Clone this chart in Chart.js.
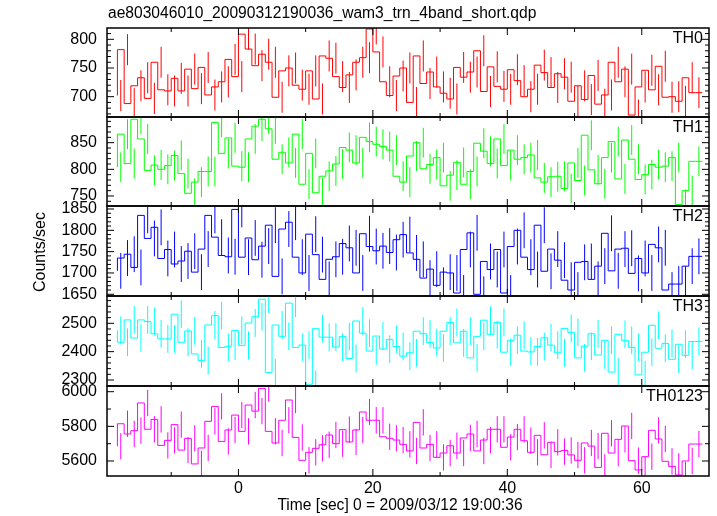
<!DOCTYPE html>
<html><head><meta charset="utf-8">
<script src="https://cdn.jsdelivr.net/npm/chart.js@4/dist/chart.umd.min.js"></script>
<style>
html,body{margin:0;padding:0;background:#fff;}
#wrap{position:relative;width:717px;height:516px;overflow:hidden;background:#fff;}
#wrap canvas{position:absolute;left:0;top:0;}
</style></head><body><div id="wrap"></div>
<script>
// ---- data ----
const TIME = [-17.5,-16.5,-15.5,-14.5,-13.5,-12.5,-11.5,-10.5,-9.5,-8.5,-7.5,-6.5,-5.5,-4.5,-3.5,-2.5,-1.5,-0.5,
  0.5,1.5,2.5,3.5,4.5,5.5,6.5,7.5,8.5,9.5,10.5,11.5,12.5,13.5,14.5,15.5,16.5,17.5,18.5,19.5,
  20.5,21.5,22.5,23.5,24.5,25.5,26.5,27.5,28.5,29.5,30.5,31.5,32.5,33.5,34.5,35.5,36.5,37.5,38.5,39.5,
  40.5,41.5,42.5,43.5,44.5,45.5,46.5,47.5,48.5,49.5,50.5,51.5,52.5,53.5,54.5,55.5,56.5,57.5,58.5,59.5,
  60.5,61.5,62.5,63.5,64.5,65.5,66.5,67.5,68.5];
const TH0 = [702,782,688,719,733,697,760,712,710,732,710,748,714,751,703,717,726,765,
  735,809,783,754,774,760,699,745,750,720,713,745,696,771,767,735,716,738,760,768,
  818,778,726,702,736,750,690,771,723,743,717,706,696,751,734,743,780,709,752,718,
  713,747,728,700,713,755,742,716,740,734,692,719,695,737,687,703,760,726,748,668,
  717,746,712,753,699,700,692,733,707];
const TH1 = [804,866,811,894,857,798,808,800,807,826,792,755,776,796,796,888,830,859,
  806,804,857,881,894,876,819,832,812,866,772,830,756,787,797,810,841,836,812,860,
  852,847,843,836,787,776,825,850,801,809,822,769,789,813,772,796,849,834,811,857,
  807,836,819,822,827,784,776,786,787,764,812,779,864,799,773,822,852,782,855,819,
  781,790,809,804,806,822,734,760,815];
const TH2 = [1705,1735,1744,1713,1835,1781,1807,1734,1755,1721,1728,1751,1702,1756,1835,1784,1741,1738,
  1849,1737,1782,1731,1763,1812,1692,1803,1819,1737,1700,1791,1743,1685,1732,1738,1769,1759,1700,1792,
  1762,1752,1763,1748,1778,1790,1747,1732,1688,1709,1671,1702,1700,1653,1755,1794,1650,1727,1708,1755,
  1653,1762,1800,1737,1708,1812,1704,1756,1730,1683,1660,1725,1727,1685,1716,1793,1705,1756,1758,1699,
  1734,1700,1767,1759,1660,1674,1674,1716,1739];
const TH3 = [2475,2433,2512,2448,2512,2506,2463,2445,2445,2532,2433,2473,2392,2369,2494,2527,2415,2419,
  2475,2422,2501,2523,2585,2326,2494,2454,2571,2415,2423,2285,2481,2451,2451,2416,2453,2376,2508,2465,
  2402,2455,2409,2443,2418,2384,2396,2472,2463,2432,2413,2472,2503,2431,2472,2378,2454,2511,2460,2503,
  2398,2440,2458,2402,2399,2418,2449,2423,2396,2482,2468,2378,2419,2463,2388,2440,2328,2461,2440,2415,
  2318,2398,2493,2412,2429,2373,2426,2387,2436];
const TH0123 = [5685,5815,5756,5775,5935,5783,5840,5690,5719,5810,5663,5731,5583,5675,5829,5915,5713,5779,
  5865,5771,5923,5888,6019,5771,5704,5835,5952,5736,5604,5650,5673,5694,5750,5700,5781,5710,5779,5883,
  5835,5835,5740,5731,5721,5696,5658,5823,5675,5696,5621,5646,5688,5646,5733,5756,5658,5721,5783,5783,
  5679,5738,5783,5717,5650,5748,5636,5708,5654,5661,5635,5604,5704,5686,5563,5760,5646,5725,5802,5602,
  5548,5625,5777,5727,5598,5569,5519,5600,5698];
const SERIES = [TH0, TH1, TH2, TH3, TH0123];
const PANEL_NAMES = ['TH0','TH1','TH2','TH3','TH0123'];
const ERR = [27, 28, 42, 49, 76];          // one error size per band
const BIN_HALF = 0.5;
const Y_TICKS = [[700,750,800],[750,800,850],[1650,1700,1750,1800,1850],[2300,2400,2500],[5600,5800,6000]];
const Y_MINOR = [10,10,10,20,100];
const Y_RANGE = [[664.6,819.7],[731.2,898.2],[1646,1857],[2278.8,2596.3],[5513.4,6032.9]];
const X_TICKS = [0,20,40,60];
const X_MINOR = 10;
const X_RANGE = [-19.55, 70];
const TITLE = 'ae803046010_20090312190036_wam3_trn_4band_short.qdp';
const X_LABEL = 'Time [sec] 0 = 2009/03/12 19:00:36';
const Y_LABEL = 'Counts/sec';

// ---- style / layout ----
const COLORS = ['#ff0000','#00ff00','#0000ff','#00ffff','#ff00ff'];
const FONT = '"Liberation Sans", Arial, Helvetica, sans-serif';
const PANEL_EDGES = [28,117,206,296,386,476];
const PLOT_LEFT = 107, PLOT_RIGHT = 709, W = 717, H = 516;

function framePlugin(i){
  return {
    id: 'frame' + i,
    afterDraw(chart){
      const {ctx, chartArea: a, scales: {x, y}} = chart;
      ctx.save();
      ctx.strokeStyle = '#000';
      ctx.lineWidth = 1;
      ctx.beginPath();
      for (let v = Math.ceil(X_RANGE[0]/X_MINOR)*X_MINOR; v <= X_RANGE[1]; v += X_MINOR) {
        const px = x.getPixelForValue(v);
        if (px <= a.left + 1 || px >= a.right - 1) continue;
        const len = X_TICKS.includes(v) ? 7 : 4;
        ctx.moveTo(px, a.top); ctx.lineTo(px, a.top + len);
        ctx.moveTo(px, a.bottom); ctx.lineTo(px, a.bottom - len);
      }
      const ym = Y_MINOR[i];
      for (let v = Math.ceil(Y_RANGE[i][0]/ym)*ym; v <= Y_RANGE[i][1]; v += ym) {
        const py = y.getPixelForValue(v);
        const len = Y_TICKS[i].includes(v) ? 7 : 4;
        ctx.moveTo(a.left, py); ctx.lineTo(a.left + len, py);
        ctx.moveTo(a.right, py); ctx.lineTo(a.right - len, py);
      }
      ctx.stroke();
      ctx.lineWidth = 1.5;
      ctx.strokeRect(a.left, a.top, a.right - a.left, a.bottom - a.top);
      ctx.fillStyle = '#000';
      ctx.font = '16px ' + FONT;
      ctx.textAlign = 'right';
      ctx.textBaseline = 'middle';
      ctx.fillText(PANEL_NAMES[i], a.right - 6, a.top + 11);
      if (i === 0) {
        ctx.font = '15.6px ' + FONT;
        ctx.textAlign = 'left';
        ctx.fillText(TITLE, PLOT_LEFT + 1, 14);
        ctx.font = '16px ' + FONT;
        ctx.save();
        ctx.translate(41, (PANEL_EDGES[0] + PANEL_EDGES[5]) / 2);
        ctx.rotate(-Math.PI/2);
        ctx.textAlign = 'center';
        ctx.fillText(Y_LABEL, 0, 0);
        ctx.restore();
      }
      if (i === SERIES.length - 1) {
        ctx.font = '15.6px ' + FONT;
        ctx.textAlign = 'center';
        ctx.fillText(X_LABEL, 400, 506);
      }
      ctx.restore();
    }
  };
}

const wrap = document.getElementById('wrap');
SERIES.forEach((vals, i) => {
  const cv = document.createElement('canvas');
  cv.width = W; cv.height = H;
  cv.style.width = W + 'px'; cv.style.height = H + 'px';
  wrap.appendChild(cv);
  const step = vals.map((v, k) => ({x: TIME[k] - BIN_HALF, y: v}));
  step.push({x: TIME[TIME.length - 1] + BIN_HALF, y: vals[vals.length - 1]});
  const bars = [];
  vals.forEach((v, k) => {
    bars.push({x: TIME[k], y: v - ERR[i]}, {x: TIME[k], y: v + ERR[i]}, {x: TIME[k], y: null});
  });
  const last = i === SERIES.length - 1;
  new Chart(cv, {
    type: 'line',
    data: {datasets: [
      {data: step, stepped: 'after', borderColor: COLORS[i], borderWidth: 1, pointRadius: 0, fill: false, clip: 0},
      {data: bars, borderColor: COLORS[i], borderWidth: 1, pointRadius: 0, fill: false, spanGaps: false, clip: 0}
    ]},
    options: {
      responsive: false, animation: false, devicePixelRatio: 1, events: [],
      plugins: {legend: {display: false}, tooltip: {enabled: false}, title: {display: false}},
      layout: {padding: {left: 0, right: W - PLOT_RIGHT, top: PANEL_EDGES[i], bottom: last ? 0 : H - PANEL_EDGES[i + 1]}},
      scales: {
        x: {
          type: 'linear', min: X_RANGE[0], max: X_RANGE[1], display: last,
          afterBuildTicks: s => { s.ticks = X_TICKS.map(v => ({value: v})); },
          afterFit: s => { s.height = last ? H - PANEL_EDGES[5] : 0; },
          grid: {display: false, drawTicks: false}, border: {display: false},
          ticks: {padding: 3, color: '#000', font: {family: FONT, size: 16}, maxRotation: 0, autoSkip: false,
                  callback: v => String(v)},
          title: {display: false}
        },
        y: {
          type: 'linear', min: Y_RANGE[i][0], max: Y_RANGE[i][1],
          afterBuildTicks: s => { s.ticks = Y_TICKS[i].map(v => ({value: v})); },
          afterFit: s => { s.width = PLOT_LEFT; },
          grid: {display: false, drawTicks: false}, border: {display: false},
          ticks: {padding: 10, color: '#000', font: {family: FONT, size: 16}, autoSkip: false,
                  callback: v => String(v)}
        }
      }
    },
    plugins: [framePlugin(i)]
  });
});
</script>
</body></html>
